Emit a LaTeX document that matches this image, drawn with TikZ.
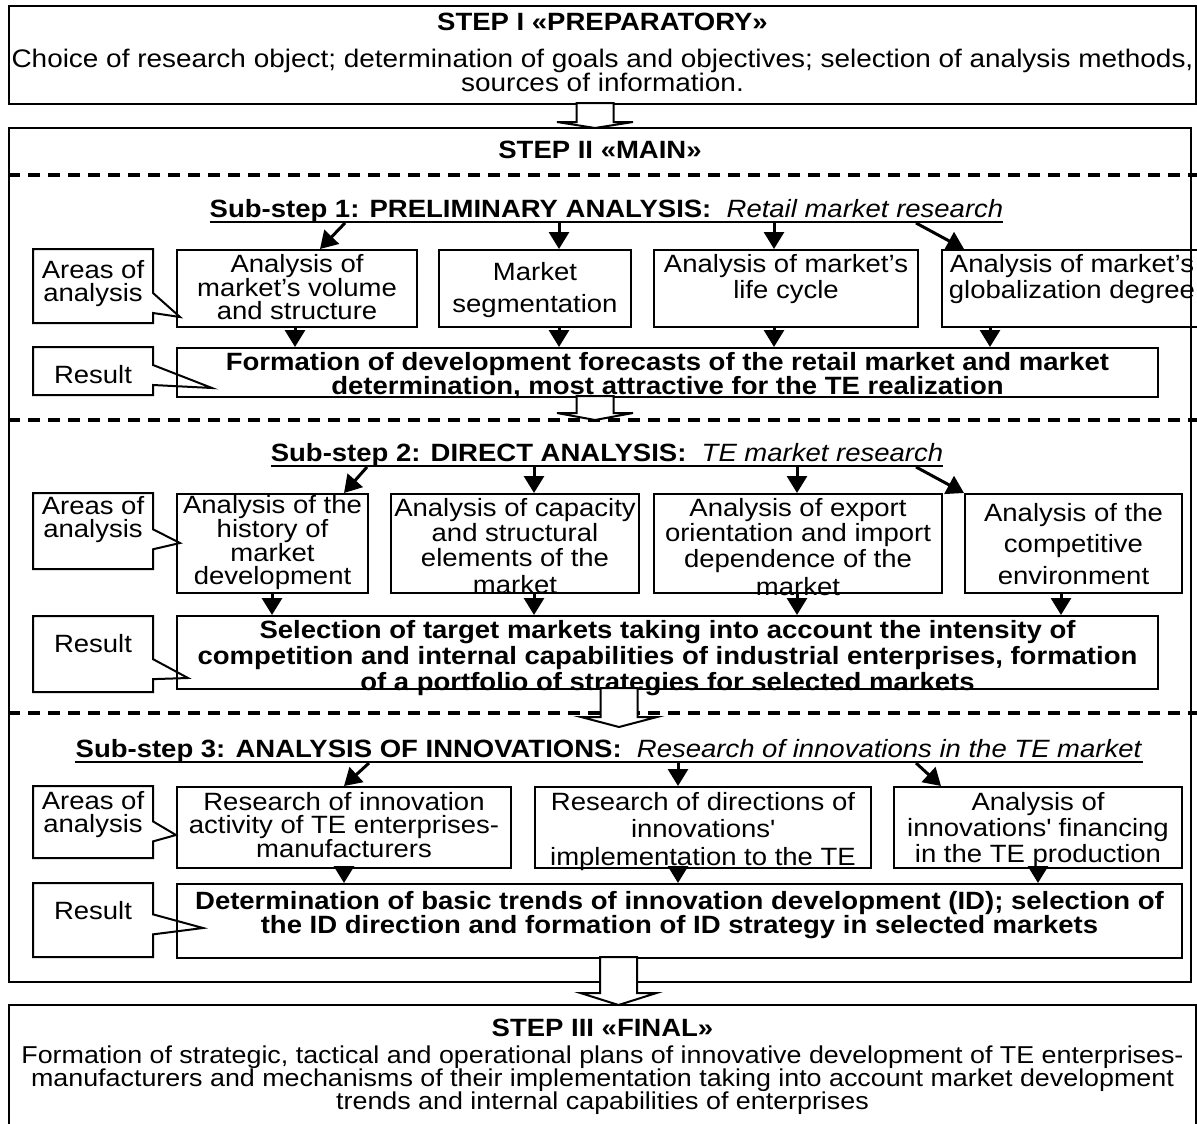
\documentclass[tikz,border=0pt]{standalone}
\usepackage{fontspec}
\setmainfont{Liberation Sans}[FakeStretch=1.1]
\usetikzlibrary{arrows.meta,shapes.callouts}

% text block of a box: width, height, first baseline, text
\newcommand{\cell}[4]{\parbox[c][#2pt][t]{#1pt}{\centering\rule{0pt}{#3pt}#4}}
% hollow block arrow: x, top, neck, tip
\newcommand{\bigarrow}[4]{%
  \draw[hollow] (#1-18.5,#2) -- (#1+18.5,#2) -- (#1+18.5,#3) -- (#1+38,#3) -- (#1,#4) -- (#1-38,#3) -- (#1-18.5,#3) -- cycle;}

\begin{document}
\begin{tikzpicture}[x=1pt,y=1pt,yscale=-1,
    every node/.style={font=\fontsize{25}{23}\selectfont},
    box/.style={draw,line width=2pt,inner sep=0pt,anchor=north west},
    note/.style={rectangle callout,draw,line width=2pt,inner sep=0pt,callout pointer width=20pt},
    head/.style={inner xsep=0pt,anchor=base},
    uline/.style={line width=2.6pt},
    arr/.style={line width=3pt,-{Triangle[length=17pt,width=20pt]}},
    dashline/.style={line width=3.5pt,dash pattern=on 12pt off 8pt},
    hollow/.style={draw,line width=2pt,fill=white}]
    \clip (0,0) rectangle (1197,1124);

    % Step I
    \node[box] (s1) at (8,5) {\cell{1187}{98}{25}{\textbf{STEP I «PREPARATORY»}\\[13pt]{\fontsize{25.4}{23}\selectfont Choice of research object; determination of goals and objectives; selection of analysis methods,\\sources of information.}}};
    % Step II
    \node[box] (s2) at (8,127) {\cell{1182}{854}{30}{\textbf{STEP II «MAIN»}}};
    \bigarrow{595}{103}{122}{128}

    % dashed separators
    \draw[dashline] (8,175) -- (1197,175);
    \draw[dashline] (8,420) -- (1197,420);
    \draw[dashline] (8,713) -- (1197,713);

    % Sub-step 1
    \node[head] (h1) at (606.5,217) {\textbf{Sub-step 1: PRELIMINARY ANALYSIS:}\ \ \textit{Retail market research}};
    \draw[uline] ([yshift=5pt]h1.base west) -- ([yshift=5pt]h1.base east);
    \coordinate (u1) at ([yshift=6pt]h1.base);

    \node[note, callout absolute pointer={(180,317)}] (a1) at (93,286) {\cell{120}{74}{29}{Areas of\\analysis}};
    \node[box] (b11) at (176,249) {\cell{240}{77}{22}{Analysis of\\market’s volume\\and structure}};
    \node[box] (b12) at (438,249) {\cell{192}{77}{30}{Market\\[9pt]segmentation}};
    \node[box] (b13) at (653,249) {\cell{264}{77}{22}{Analysis of market’s\\[2pt]life cycle}};
    \node[box] (b14) at (941,249) {\cell{260}{77}{22}{Analysis of market’s\\[2pt]globalization degree}};

    \draw[arr] (u1 -| 345,0) -- (b11.north -| 320,0);
    \draw[arr] (u1 -| 559,0) -- (b12.north -| 559,0);
    \draw[arr] (u1 -| 774,0) -- (b13.north -| 774,0);
    \draw[arr] (u1 -| 916,0) -- (b14.north -| 964,0);

    \node[note, callout absolute pointer={(212,388)}] (a1r) at (93,371) {\cell{120}{48}{36}{Result}};
    \node[box] (r1) at (176,347) {\cell{981}{49}{22}{\bfseries Formation of development forecasts of the retail market and market\\determination, most attractive for the TE realization}};

    \draw[arr] (b11.south -| 295,0) -- (r1.north -| 295,0);
    \draw[arr] (b12.south -| 559,0) -- (r1.north -| 559,0);
    \draw[arr] (b13.south -| 774,0) -- (r1.north -| 774,0);
    \draw[arr] (b14.south -| 990,0) -- (r1.north -| 990,0);
    \bigarrow{595}{396}{413}{420}

    % Sub-step 2
    \node[head] (h2) at (607,461) {\textbf{Sub-step 2: DIRECT ANALYSIS:}\ \ \textit{TE market research}};
    \draw[uline] ([yshift=5pt]h2.base west) -- ([yshift=5pt]h2.base east);
    \coordinate (u2) at ([yshift=6pt]h2.base);

    \node[note, callout absolute pointer={(180,543)}] (a2) at (93,531) {\cell{120}{76}{21}{Areas of\\analysis}};
    \node[box] (b21) at (176,493) {\cell{191}{99}{19}{Analysis of the\\history of\\market\\development}};
    \node[box] (b22) at (390,493) {\cell{248}{99}{22}{Analysis of capacity\\[1.5pt]and structural\\[1.5pt]elements of the\\[4pt]market}};
    \node[box] (b23) at (653,493) {\cell{288}{99}{22}{Analysis of export\\[1.5pt]orientation and import\\[1.5pt]dependence of the\\[4pt]market}};
    \node[box] (b24) at (964,493) {\cell{217}{99}{27}{Analysis of the\\[7.5pt]competitive\\[7.5pt]environment}};

    \draw[arr] (u2 -| 367,0) -- (b21.north -| 344,0);
    \draw[arr] (u2 -| 534,0) -- (b22.north -| 534,0);
    \draw[arr] (u2 -| 797,0) -- (b23.north -| 797,0);
    \draw[arr] (u2 -| 916,0) -- (b24.north west);

    \node[note, callout absolute pointer={(188,678)}] (a2r) at (93,654) {\cell{120}{76}{36}{Result}};
    \node[box] (r2) at (176,615) {\cell{981}{73}{22}{\bfseries Selection of target markets taking into account the intensity of\\[2pt]competition and internal capabilities of industrial enterprises, formation\\[2pt]of a portfolio of strategies for selected markets}};

    \draw[arr] (b21.south -| 272,0) -- (r2.north -| 272,0);
    \draw[arr] (b22.south -| 534,0) -- (r2.north -| 534,0);
    \draw[arr] (b23.south -| 797,0) -- (r2.north -| 797,0);
    \draw[arr] (b24.south -| 1061,0) -- (r2.north -| 1061,0);
    \bigarrow{619}{688}{717}{727}

    % Sub-step 3
    \node[head] (h3) at (609,757) {\textbf{Sub-step 3: ANALYSIS OF INNOVATIONS:}\ \ \textit{Research of innovations in the TE market}};
    \draw[uline] ([yshift=5pt]h3.base west) -- ([yshift=5pt]h3.base east);
    \coordinate (u3) at ([yshift=6pt]h3.base);

    \node[note, callout absolute pointer={(176,835)}] (a3) at (93,822) {\cell{120}{72}{23}{Areas of\\analysis}};
    \node[box] (b31) at (176,786) {\cell{334}{81}{23}{Research of innovation\\activity of TE enterprises-\\manufacturers}};
    \node[box] (b32) at (534,786) {\cell{336}{81}{23}{Research of directions of\\[4.5pt]innovations\textquotesingle\\[4.5pt]implementation to the TE}};
    \node[box] (b33) at (893,786) {\cell{288}{81}{23}{Analysis of\\[2pt]innovations\textquotesingle{} financing\\[2pt]in the TE production}};

    \draw[arr] (u3 -| 369,0) -- (b31.north -| 344,0);
    \draw[arr] (u3 -| 678,0) -- (b32.north -| 678,0);
    \draw[arr] (u3 -| 916,0) -- (b33.north -| 941,0);

    \node[note, callout absolute pointer={(203,928)}] (a3r) at (93,920) {\cell{120}{74}{36}{Result}};
    \node[box] (r3) at (176,883) {\cell{1005}{74}{25}{\bfseries Determination of basic trends of innovation development (ID); selection of\\the ID direction and formation of ID strategy in selected markets}};

    \draw[arr] (b31.south -| 344,0) -- (r3.north -| 344,0);
    \draw[arr] (b32.south -| 678,0) -- (r3.north -| 678,0);
    \draw[arr] (b33.south -| 1038,0) -- (r3.north -| 1038,0);

    % Step III
    \node[box] (s3) at (8,1004) {\cell{1187}{130}{31}{\textbf{STEP III «FINAL»}\\[4pt]{\fontsize{24.4}{23}\selectfont Formation of strategic, tactical and operational plans of innovative development of TE enterprises-\\manufacturers and mechanisms of their implementation taking into account market development\\trends and internal capabilities of enterprises}}};
    \bigarrow{618.5}{957}{993}{1005}
\end{tikzpicture}
\end{document}
